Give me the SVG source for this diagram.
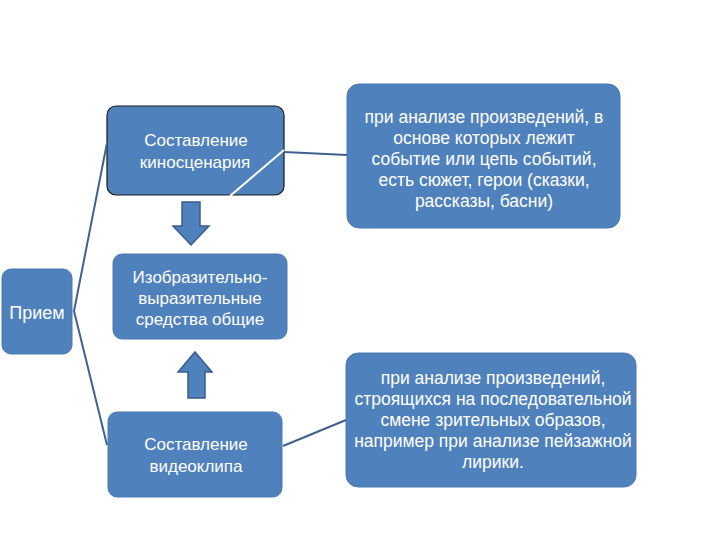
<svg xmlns="http://www.w3.org/2000/svg" width="720" height="540" viewBox="0 0 720 540">
<style>
.box{fill:#4F81BD;stroke:#4A7AB5;stroke-width:1}
.t{font-family:"Liberation Sans",Arial,sans-serif;font-size:17px;fill:#FFFFFF;text-anchor:middle}
.r{font-size:17.5px}
.arrow{fill:#4F81BD;stroke:#385D8A;stroke-width:1.5}
.conn{stroke:#40618F;stroke-width:2;fill:none}
</style>
<rect width="720" height="540" fill="#FFFFFF"/>
<g id="priem">
<rect class="box" x="2" y="269" width="70" height="85" rx="9"/>
<text class="t" x="37" y="319" style="font-size:18px">Прием</text>
</g>
<g id="kinoscenariy">
<rect x="107" y="106" width="177" height="89" rx="9" fill="#4F81BD" stroke="#1A1A1A" stroke-width="1.2"/>
<text class="t" x="196" y="146">Составление</text>
<text class="t" x="195" y="168">киносценария</text>
</g>
<g id="arrow-down">
<path class="arrow" d="M182,202 H200 V226 H209 L191,245 L173,226 H182 Z"/>
</g>
<g id="sredstva">
<rect class="box" x="113" y="254" width="174" height="85" rx="9"/>
<text class="t" x="200" y="283">Изобразительно-</text>
<text class="t" x="200" y="304">выразительные</text>
<text class="t" x="200" y="325">средства общие</text>
</g>
<g id="arrow-up">
<path class="arrow" d="M195,352 L212,372 H205 V398 H188 V372 H178 Z"/>
</g>
<g id="videoklip">
<rect class="box" x="108" y="412" width="174" height="85" rx="9"/>
<text class="t" x="196" y="450">Составление</text>
<text class="t" x="196" y="472">видеоклипа</text>
</g>
<g id="syuzhet">
<rect class="box" x="347" y="84" width="273" height="144" rx="12"/>
<text class="t r" x="484" y="123">при анализе произведений, в</text>
<text class="t r" x="484" y="144">основе которых лежит</text>
<text class="t r" x="484" y="165">событие или цепь событий,</text>
<text class="t r" x="484" y="186">есть сюжет, герои (сказки,</text>
<text class="t r" x="484" y="207">рассказы, басни)</text>
</g>
<g id="obrazy">
<rect class="box" x="346" y="353" width="290" height="134" rx="12"/>
<text class="t r" x="493" y="384">при анализе произведений,</text>
<text class="t r" x="493" y="405">строящихся на последовательной</text>
<text class="t r" x="493" y="426">смене зрительных образов,</text>
<text class="t r" x="493" y="447">например при анализе пейзажной</text>
<text class="t r" x="493" y="468">лирики.</text>
</g>
<g id="connectors">
<polyline class="conn" points="107,143 74,311 107,445"/>
<line class="conn" x1="284" y1="152" x2="347" y2="155"/>
<line x1="284" y1="150" x2="230" y2="196" stroke="#FFFFFF" stroke-width="2"/>
<line class="conn" x1="283" y1="446" x2="346" y2="420"/>
</g>
</svg>
